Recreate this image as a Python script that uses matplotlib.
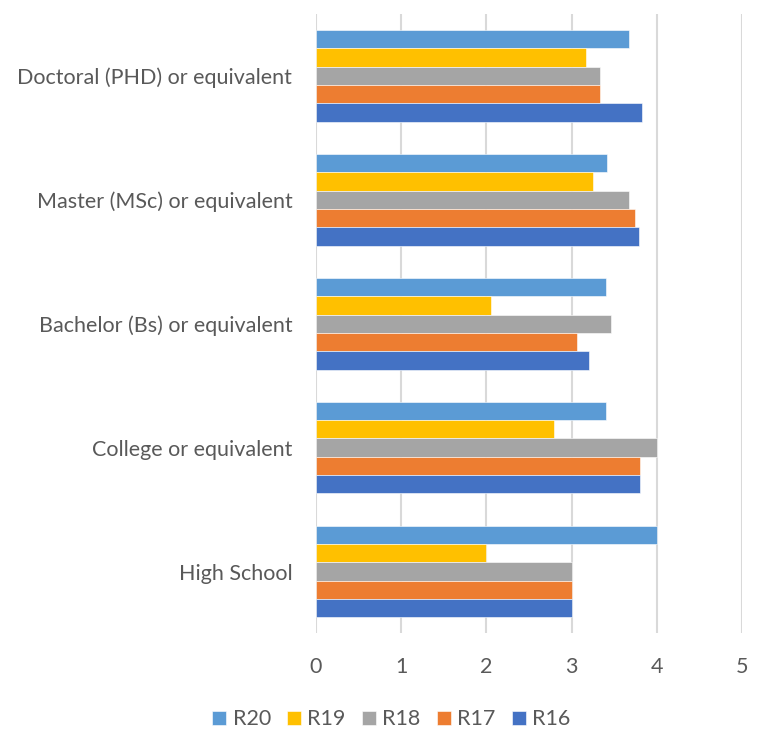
import matplotlib.pyplot as plt
import numpy as np

categories = ["High School", "College or equivalent", "Bachelor (Bs) or equivalent",
              "Master (MSc) or equivalent", "Doctoral (PHD) or equivalent"]
series_names = ["R20", "R19", "R18", "R17", "R16"]
r20 = [4.00, 3.40, 3.40, 3.42, 3.67]
r19 = [2.00, 2.80, 2.06, 3.25, 3.17]
r18 = [3.00, 4.00, 3.46, 3.67, 3.33]
r17 = [3.00, 3.80, 3.06, 3.75, 3.33]
r16 = [3.00, 3.80, 3.20, 3.79, 3.83]
colors = ["#5B9BD5", "#FFC000", "#A5A5A5", "#ED7D31", "#4472C4"]

plt.rcParams['font.family'] = ['Lato', 'DejaVu Sans']

fig = plt.figure(figsize=(7.57, 7.31), dpi=100)
ax = fig.add_axes([0.4174, 0.1334, 0.5626, 0.8476])

y = np.arange(len(categories))
n = len(series_names)
group = 0.74
h = group / n
for i, (name, vals, c) in enumerate(zip(series_names, [r20, r19, r18, r17, r16], colors)):
    offset = group / 2 - h * (i + 0.5)
    ax.barh(y + offset, vals, height=h, color=c, label=name,
            edgecolor="white", linewidth=0.4, zorder=3)

ax.set_xlim(0, 5)
ax.set_ylim(-0.5, len(categories) - 0.5)
ax.set_yticks(y)
ax.set_yticklabels(categories)
ax.set_xticks(range(6))
ax.grid(axis="x", color="#D9D9D9", linewidth=1.5, zorder=0)
for s in ax.spines.values():
    s.set_visible(False)
ax.tick_params(axis="both", length=0, colors="#595959", labelsize=15.5)
ax.tick_params(axis="y", pad=17)
ax.tick_params(axis="x", pad=17)

handles, labels = ax.get_legend_handles_labels()
fig.legend(handles, labels, loc="center", bbox_to_anchor=(0.517, 0.016), ncol=5,
           frameon=False, fontsize=15.5, handlelength=0.65, handleheight=0.65,
           handletextpad=0.3, columnspacing=0.75, labelcolor="#595959")

fig.savefig("out.png", dpi=100)
